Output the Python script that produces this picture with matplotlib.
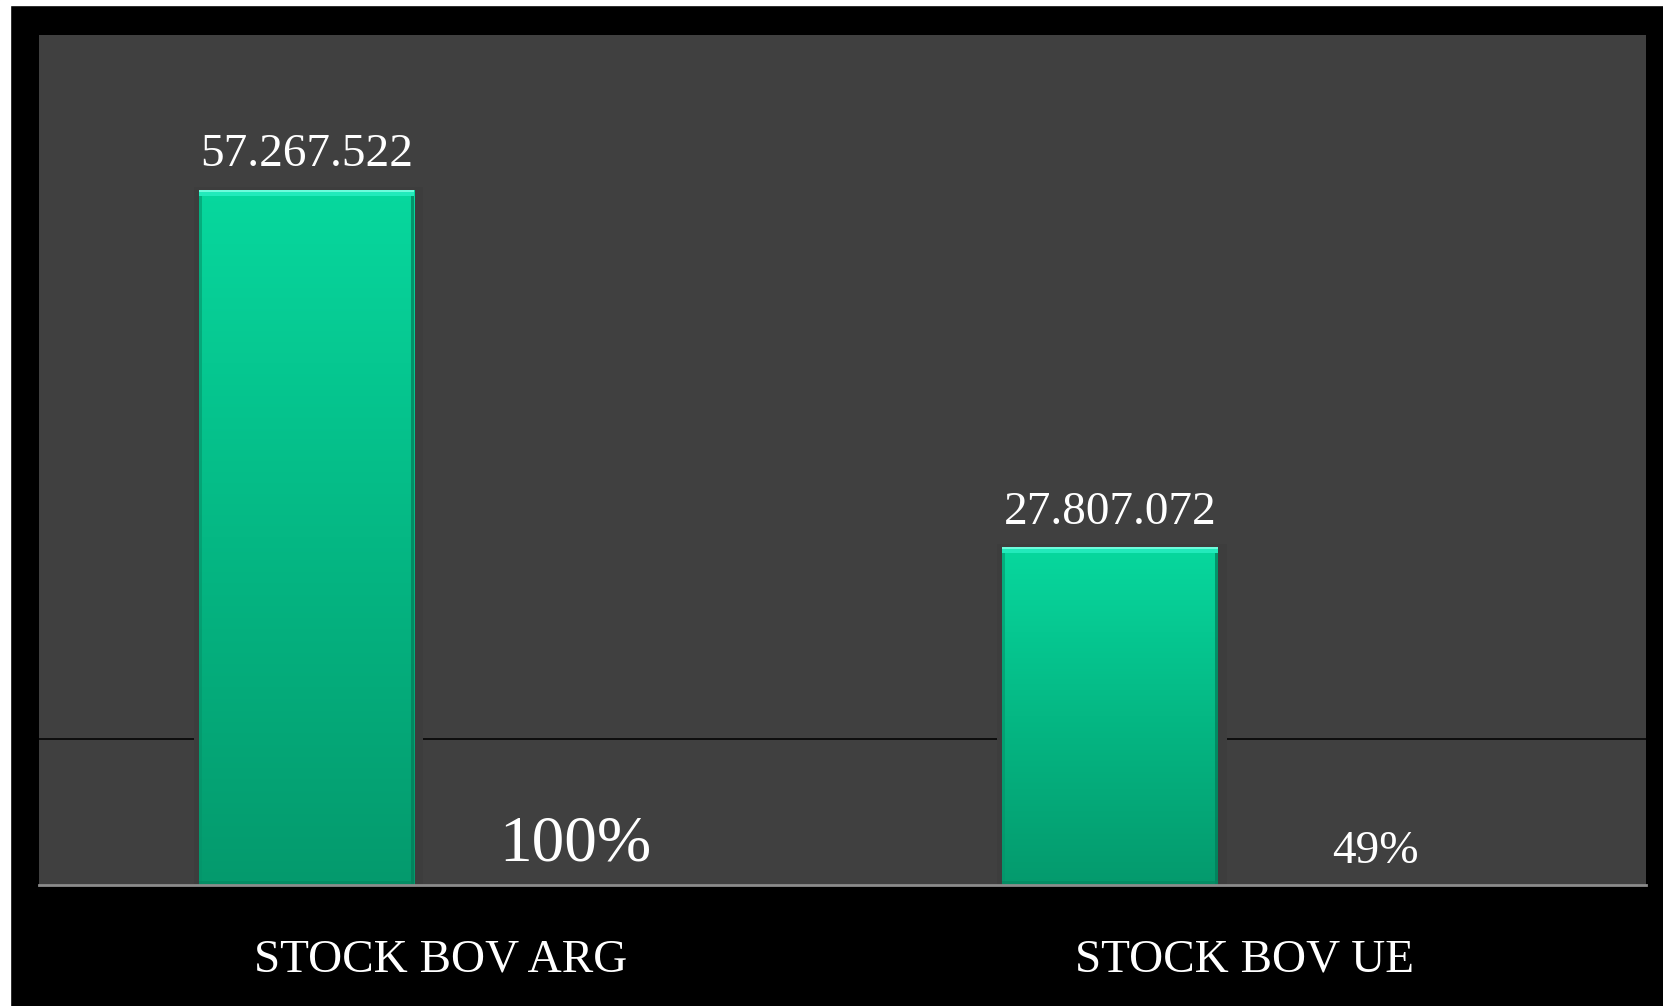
import numpy as np
import matplotlib
matplotlib.use('Agg')
import matplotlib.pyplot as plt
from matplotlib.patches import Rectangle
from matplotlib.colors import LinearSegmentedColormap

categories = ['STOCK BOV ARG', 'STOCK BOV UE']
values = [57267522, 27807072]
value_labels = ['57.267.522', '27.807.072']
pct_labels = ['100%', '49%']
grid_value = 12e6

W, H = 1663, 1006
fig = plt.figure(figsize=(W / 100, H / 100), dpi=100, facecolor='black')
# white strips at the top and left edge
fig.patches.append(Rectangle((0, 0), 10 / W, 1, transform=fig.transFigure, color='white', zorder=-5))
fig.patches.append(Rectangle((0, 1 - 5 / H), 1, 5 / H, transform=fig.transFigure, color='white', zorder=-5))

ax = fig.add_axes([39 / W, 1 - 885 / H, (1646 - 39) / W, (885 - 35) / H])
ax.set_facecolor('#404040')

x = np.arange(len(categories))
bar_w = 0.268
off = 0.167
px = 1 / 803.5  # one pixel in category units
ypx = 70e6 / 850

serif = 'Liberation Serif'
cmap = LinearSegmentedColormap.from_list('g', ['#049a6d', '#05b884', '#07d89e'])
grad = np.linspace(0, 1, 256).reshape(-1, 1)

# horizontal gridline
ax.axhline(grid_value, color='black', lw=1.1, zorder=1)

for i, v in enumerate(values):
    left = x[i] - off - bar_w / 2
    # shadow that cuts the gridline around the bar
    ax.add_patch(Rectangle((left - 5 * px, 0), bar_w + 14 * px, v + 3 * ypx,
                           color='#3d3d3d', zorder=2, lw=0))
    rect = Rectangle((left, 0), bar_w, v, facecolor='none', edgecolor='none', zorder=3)
    ax.add_patch(rect)
    im = ax.imshow(grad, cmap=cmap, origin='lower', aspect='auto',
                   extent=(left, left + bar_w, 0, v), zorder=3)
    im.set_clip_path(rect)
    # bevel details
    ax.add_patch(Rectangle((left, v - 6 * ypx), bar_w, 6 * ypx, color='#22eabb', zorder=4, lw=0))
    ax.add_patch(Rectangle((left, v - 2 * ypx), bar_w, 2 * ypx, color='#6ffbdc', zorder=4, lw=0))
    ax.add_patch(Rectangle((left, 0), 3 * px, v - 6 * ypx, color='#04946a', alpha=0.6, zorder=4, lw=0))
    ax.add_patch(Rectangle((left + bar_w - 3 * px, 0), 3 * px, v - 6 * ypx, color='#037a57', alpha=0.7, zorder=4, lw=0))
    ax.add_patch(Rectangle((left, 0), bar_w, 4 * ypx, color='#04855f', alpha=0.6, zorder=4, lw=0))

    ax.annotate(value_labels[i], (x[i] - off, v), xytext=(0, 17), textcoords='offset points',
                ha='center', va='baseline', color='white', fontsize=34, family=serif)

ax.text(x[0] + off, 0.0294, pct_labels[0], transform=ax.get_xaxis_transform(),
        ha='center', va='baseline', color='white', fontsize=47, family=serif)
ax.text(x[1] + 0.163, 0.0259, pct_labels[1], transform=ax.get_xaxis_transform(),
        ha='center', va='baseline', color='white', fontsize=34, family=serif)

for i, c in enumerate(categories):
    ax.text(x[i], -0.1012, c, transform=ax.get_xaxis_transform(),
            ha='center', va='baseline', color='white', fontsize=34, family=serif)

ax.set_xlim(-0.5, 1.5)
ax.set_ylim(0, 70e6)
ax.set_xticks([])
ax.set_yticks([])
for s in ['top', 'left', 'right']:
    ax.spines[s].set_visible(False)
ax.spines['bottom'].set_color('#8c8c8c')
ax.spines['bottom'].set_linewidth(2)
ax.spines['bottom'].set_zorder(5)

fig.savefig('out.png', dpi=100, facecolor='black')
